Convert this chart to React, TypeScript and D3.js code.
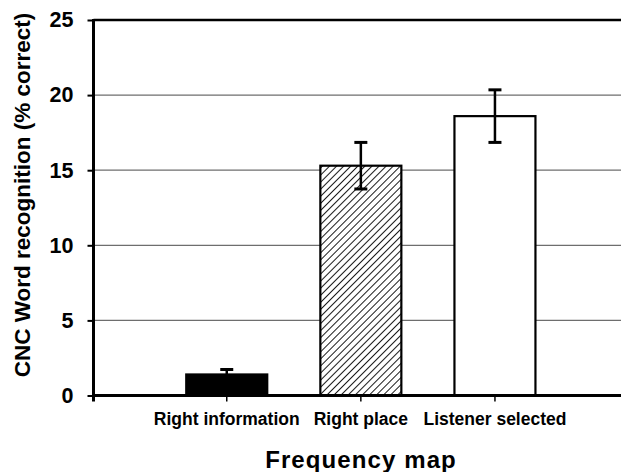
import React, { useEffect, useRef } from 'react';
import * as d3 from 'd3';

const categories = ['Right information', 'Right place', 'Listener selected'];
const values = [1.4, 15.3, 18.6];
const errors = [0.33, 1.55, 1.75];
const fills = ['solid', 'hatch', 'white'];
const yTicks = [0, 5, 10, 15, 20, 25];

const W = 621, H = 472;
const FONT = '"Liberation Sans", Arial, sans-serif';

export default function App() {
  const ref = useRef<SVGSVGElement>(null);

  useEffect(() => {
    const svg = d3.select(ref.current);
    svg.selectAll('*').remove();

    const left = 93.5, right = 630, top = 20, bottom = 395.5;

    const y = d3.scaleLinear().domain([0, 25]).range([bottom, top]);
    const x = d3.scaleBand<string>().domain(categories)
      .range([159.7, 562]).paddingInner(0.396).paddingOuter(0.198);

    const defs = svg.append('defs');
    const pat = defs.append('pattern').attr('id', 'hatch')
      .attr('patternUnits', 'userSpaceOnUse').attr('width', 5).attr('height', 5)
      .attr('patternTransform', 'rotate(45)');
    pat.append('rect').attr('width', 5).attr('height', 5).attr('fill', 'white');
    pat.append('line').attr('x1', 0).attr('y1', 0).attr('x2', 0).attr('y2', 5)
      .attr('stroke', 'black').attr('stroke-width', 1.8);

    // gridlines
    svg.append('g').selectAll('line').data(yTicks.filter(t => t > 0 && t < 25)).join('line')
      .attr('x1', left).attr('x2', right)
      .attr('y1', d => y(d)).attr('y2', d => y(d))
      .attr('stroke', '#6e6e6e').attr('stroke-width', 1.2);

    // top border
    svg.append('line').attr('x1', left).attr('x2', right)
      .attr('y1', y(25)).attr('y2', y(25)).attr('stroke', 'black').attr('stroke-width', 2.5);

    // bars
    const bars = categories.map((c, i) => ({ c, v: values[i], e: errors[i], f: fills[i] }));
    svg.append('g').selectAll('rect').data(bars).join('rect')
      .attr('x', d => x(d.c)!)
      .attr('y', d => y(d.v))
      .attr('width', x.bandwidth())
      .attr('height', d => bottom - y(d.v))
      .attr('fill', d => d.f === 'solid' ? 'black' : d.f === 'hatch' ? 'url(#hatch)' : 'white')
      .attr('stroke', 'black').attr('stroke-width', 2.2);

    // error bars
    const cx = (d: { c: string }) => x(d.c)! + x.bandwidth() / 2;
    const eb = svg.append('g');
    eb.selectAll('.stem').data(bars).join('line').attr('class', 'stem')
      .attr('x1', cx).attr('x2', cx)
      .attr('y1', d => y(d.v + d.e)).attr('y2', d => y(d.v - d.e))
      .attr('stroke', 'black').attr('stroke-width', 2.5);
    eb.selectAll('.capTop').data(bars).join('line').attr('class', 'capTop')
      .attr('x1', d => cx(d) - 6.5).attr('x2', d => cx(d) + 6.5)
      .attr('y1', d => y(d.v + d.e)).attr('y2', d => y(d.v + d.e))
      .attr('stroke', 'black').attr('stroke-width', 3);
    eb.selectAll('.capBot').data(bars).join('line').attr('class', 'capBot')
      .attr('x1', d => cx(d) - 6.5).attr('x2', d => cx(d) + 6.5)
      .attr('y1', d => y(d.v - d.e)).attr('y2', d => y(d.v - d.e))
      .attr('stroke', 'black').attr('stroke-width', 3);

    // y axis
    const ya = svg.append('g').attr('transform', `translate(${left},0)`)
      .call(d3.axisLeft(y).tickValues(yTicks).tickSize(6).tickPadding(14).tickFormat(d3.format('d')));
    ya.select('.domain').remove();
    ya.selectAll('.tick line').attr('stroke', 'black').attr('stroke-width', 2);
    ya.selectAll('.tick text').attr('font-family', FONT).attr('font-weight', 'bold')
      .attr('font-size', 21.5).attr('fill', 'black');
    svg.append('line').attr('x1', left).attr('x2', left).attr('y1', top - 1).attr('y2', bottom + 6)
      .attr('stroke', 'black').attr('stroke-width', 3);

    // x axis
    const xa = svg.append('g').attr('transform', `translate(0,${bottom})`)
      .call(d3.axisBottom(x).tickSize(6).tickPadding(11));
    xa.select('.domain').remove();
    xa.selectAll('.tick line').attr('stroke', 'black').attr('stroke-width', 1.5);
    xa.selectAll('.tick text').attr('font-family', FONT).attr('font-weight', 'bold')
      .attr('font-size', 17.5).attr('fill', 'black');
    svg.append('line').attr('x1', left).attr('x2', right).attr('y1', bottom).attr('y2', bottom)
      .attr('stroke', 'black').attr('stroke-width', 3);

    // titles
    svg.append('text').attr('x', 361).attr('y', 468).attr('text-anchor', 'middle')
      .attr('font-family', FONT).attr('font-weight', 'bold').attr('font-size', 24)
      .attr('letter-spacing', 1.1).text('Frequency map');
    svg.append('text').attr('transform', 'translate(30,195) rotate(-90)').attr('text-anchor', 'middle')
      .attr('font-family', FONT).attr('font-weight', 'bold').attr('font-size', 22.5)
      .text('CNC Word recognition (% correct)');
  }, []);

  return (
    <svg ref={ref} width={W} height={H}
      style={{ position: 'absolute', left: 0, top: 0, background: 'white' }} />
  );
}
